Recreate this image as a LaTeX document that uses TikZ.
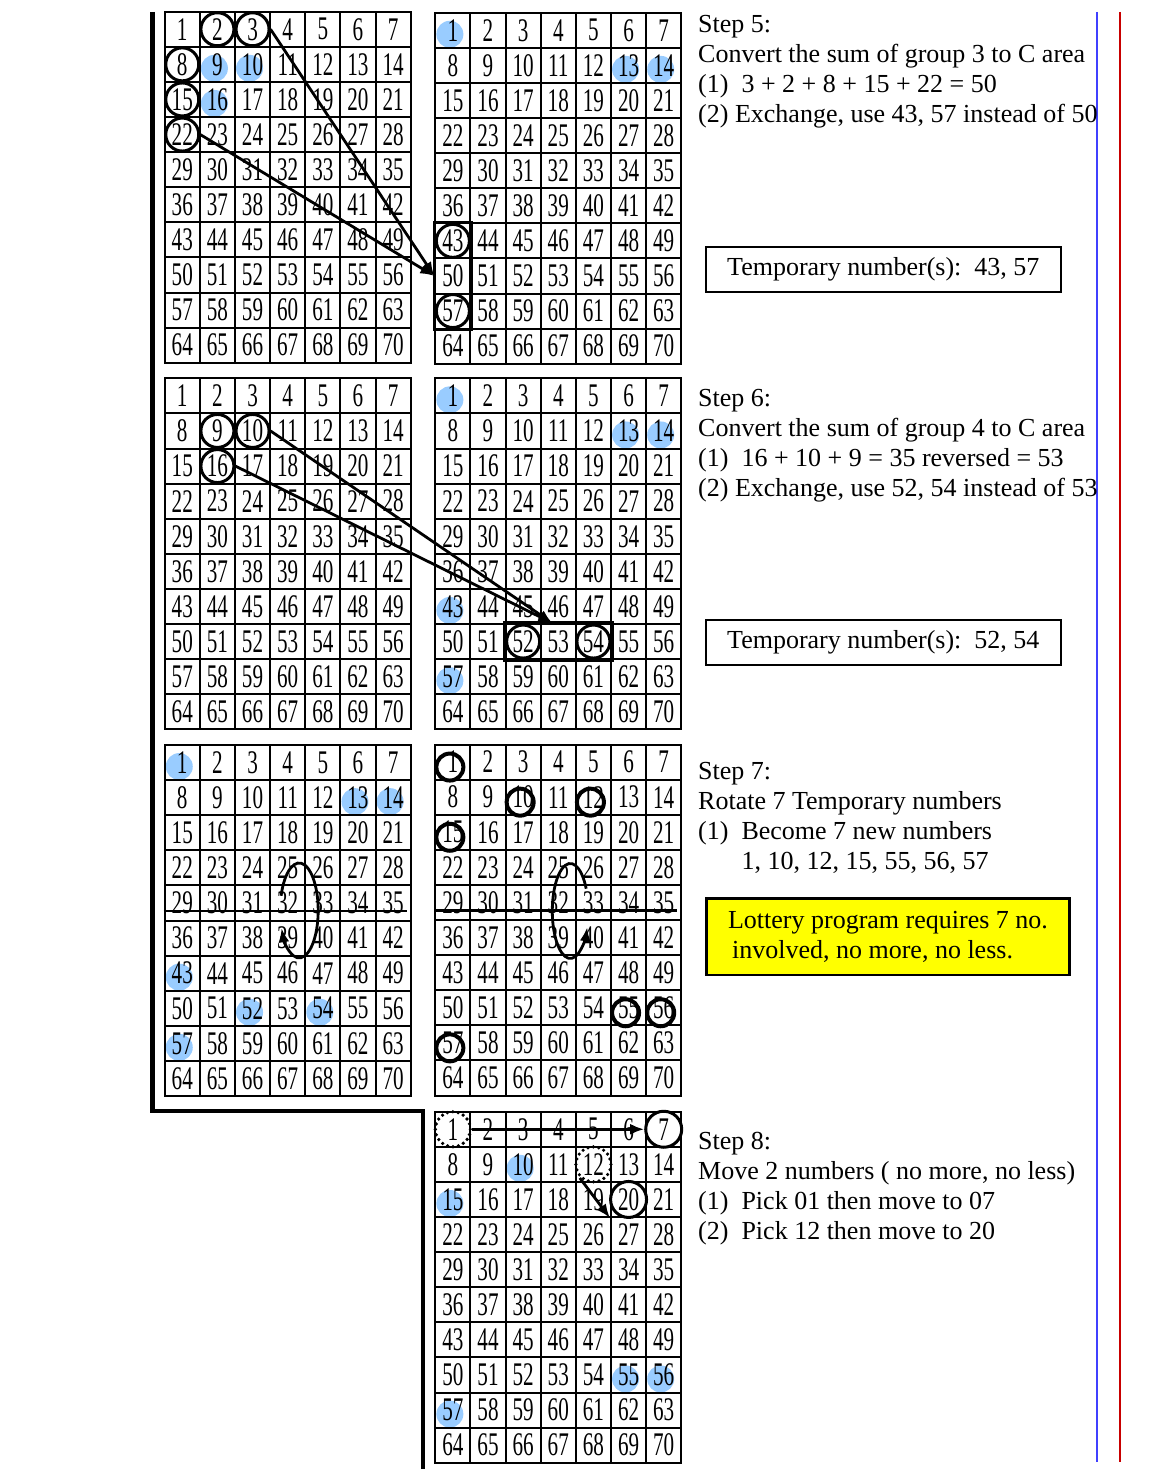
\documentclass[tikz,border=0pt]{standalone}
\usepackage{fontspec}
\setmainfont{Liberation Serif}
\newfontfamily\gridfont[FakeStretch=0.64]{Liberation Serif}
\usetikzlibrary{arrows.meta,backgrounds}
\definecolor{dotblue}{RGB}{153,204,255}
\definecolor{lineblue}{RGB}{64,64,255}
\definecolor{linered}{RGB}{200,0,0}
\definecolor{noteyellow}{RGB}{255,255,0}

% 7 x 10 board, cells named <name>-1 ... <name>-70
\newcommand\board[3]{%
  \foreach \n in {1,...,70}{%
    \pgfmathtruncatemacro\bcol{mod(\n-1,7)}%
    \pgfmathtruncatemacro\brow{div(\n-1,7)}%
    \node[cell] (#1-\n) at (#2+17.57+35.14*\bcol,#3+17.55+35.1*\brow) {\n};
  }%
}
% light blue marks (background layer)
\newcommand\bluedots[2]{%
  \foreach \n in {#2}{\fill[dotblue] ([xshift=-3pt,yshift=-4pt]#1-\n) circle[radius=13.5pt];}%
}
% circled numbers, named <name>r<number>
\newcommand\rings[2]{%
  \foreach \n in {#2}{\node[ring] (#1r\n) at (#1-\n) {};}%
}

\begin{document}
\begin{tikzpicture}[x=1pt,y=-1pt,
  cell/.style={draw,line width=2pt,minimum width=35.14pt,minimum height=35.1pt,
    inner sep=0pt,font=\gridfont\fontsize{33}{33}\selectfont},
  ring/.style={circle,draw,line width=3pt,minimum size=33pt,inner sep=0pt},
  bigring/.style={ring,minimum size=36pt},
  dotring/.style={ring,minimum size=35pt,line width=3.6pt,line cap=round,
    dash pattern=on 0pt off 5.5pt},
  fatring/.style={line width=4pt},
  arr/.style={-{Latex[length=14pt,width=11pt]},line width=2.8pt},
  stepnote/.style={anchor=north west,inner sep=0pt,align=left,
    font=\fontsize{26}{30}\selectfont},
  tempbox/.style={draw,line width=2.4pt,minimum width=355pt,minimum height=45pt,
    font=\fontsize{26}{30}\selectfont},
  notebox/.style={draw,fill=noteyellow,line width=2.4pt,minimum width=362.7pt,
    minimum height=76.3pt,align=left,font=\fontsize{26}{29.3}\selectfont}]
  \useasboundingbox (0,0) rectangle (1156,1469);

  % frame and margin lines
  \draw[line width=4.5pt] (152.5,12) -- (152.5,1111) -- (423,1111) -- (423,1469);
  \draw[lineblue,line width=2.3pt] (1097,12) -- (1097,1462);
  \draw[linered,line width=2pt] (1120,12) -- (1120,1462);

  % boards
  \board{A}{164.7}{11.7}
  \board{B}{435.3}{12.7}
  \board{C}{164.7}{378.3}
  \board{D}{435.3}{378.3}
  \board{E}{164.7}{745}
  \board{F}{435.3}{744.5}
  \board{G}{435.3}{1111.7}

  \begin{pgfonlayer}{background}
    \bluedots{A}{9,10,16}
    \bluedots{B}{1,13,14}
    \bluedots{D}{1,13,14,43,57}
    \bluedots{E}{1,13,14,43,52,54,57}
    \bluedots{G}{10,15,55,56,57}
  \end{pgfonlayer}

  % step 5
  \rings{A}{2,3,8,15,22}
  \rings{B}{43,57}
  \draw[line width=3.4pt] (B-43.north west) rectangle (B-57.south east);
  \draw[arr] (Ar3.east) -- (B-50.west);
  \draw[arr] (Ar22.east) -- (B-50.west);
  \node[stepnote] (step5) at (698,15.4)
    {Step 5:\\Convert the sum of group 3 to C area\\
     (1)\ \ 3 + 2 + 8 + 15 + 22 = 50\\(2) Exchange, use 43, 57 instead of 50};
  \node[tempbox] (temp5) at (883.3,269.3) {Temporary number(s):\ \ 43, 57};

  % step 6
  \rings{C}{9,10,16}
  \rings{D}{52,54}
  \draw[line width=3.4pt] (D-52.north west) rectangle (D-54.south east);
  \draw[arr] (Cr10.east) -- ([xshift=-6pt]D-53.north);
  \draw[arr] (Cr16.east) -- ([xshift=-6pt]D-53.north);
  \node[stepnote] (step6) at (698,389)
    {Step 6:\\Convert the sum of group 4 to C area\\
     (1)\ \ 16 + 10 + 9 = 35 reversed = 53\\(2) Exchange, use 52, 54 instead of 53};
  \node[tempbox] (temp6) at (883.3,642.7) {Temporary number(s):\ \ 52, 54};

  % step 7
  \draw[line width=2.8pt] ([yshift=-8pt]E-29.west) -- ([xshift=-5pt,yshift=-8pt]E-35.east);
  \draw[line width=2.8pt] ([yshift=-8pt]F-29.west) -- ([xshift=-5pt,yshift=-8pt]F-35.east);
  \coordinate (Espin) at ([xshift=11.5pt,yshift=-7.5pt]E-32);
  \coordinate (Fspin) at ([xshift=12pt,yshift=-8.5pt]F-32);
  \draw[arr] ([shift={(162:19pt and 47.5pt)}]Espin)
    arc[start angle=162,end angle=-158,x radius=19pt,y radius=47.5pt];
  \draw[arr] ([shift={(28:18pt and 47.5pt)}]Fspin)
    arc[start angle=28,end angle=340,x radius=18pt,y radius=47.5pt];
  \foreach \n in {1,10,12,15,55,56,57}
    \draw[fatring] ([xshift=-3pt,yshift=-5pt]F-\n) circle[radius=13.5pt];
  \node[stepnote] (step7) at (698,762.4)
    {Step 7:\\Rotate 7 Temporary numbers\\(1)\ \ Become 7 new numbers\\
     \hphantom{(1)\ \ }1, 10, 12, 15, 55, 56, 57};
  \node[notebox] (note7) at (888,936.8)
    {Lottery program requires 7 no.\\\hspace*{4pt}involved, no more, no less.};

  % step 8
  \node[dotring] (Gr1) at (G-1) {};
  \node[dotring] (Gr12) at (G-12) {};
  \node[bigring] (Gr7) at (G-7) {};
  \node[bigring] (Gr20) at (G-20) {};
  \draw[arr] (Gr1.east) -- (Gr7.west);
  \draw[arr] (Gr12.south west) -- (G-20.south west);
  \node[stepnote] (step8) at (698,1132.4)
    {Step 8:\\Move 2 numbers ( no more, no less)\\
     (1)\ \ Pick 01 then move to 07\\(2)\ \ Pick 12 then move to 20};
\end{tikzpicture}
\end{document}
